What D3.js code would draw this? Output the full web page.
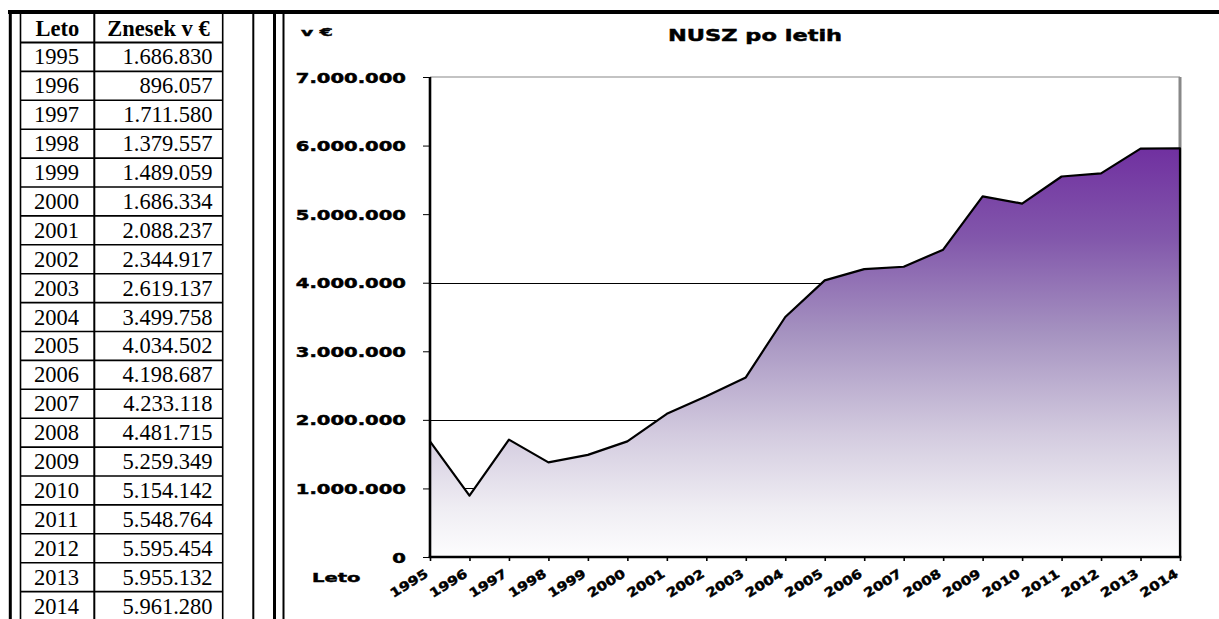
<!DOCTYPE html>
<html>
<head>
<meta charset="utf-8">
<script src="https://cdn.jsdelivr.net/npm/d3@7/dist/d3.min.js"></script>
<style>
  html, body { margin: 0; padding: 0; background: #fff; }
  svg { display: block; }
</style>
</head>
<body>
<svg id="chart" width="1219" height="619"></svg>
<script>
// ---- Data ----
const years = [1995, 1996, 1997, 1998, 1999, 2000, 2001, 2002, 2003, 2004,
               2005, 2006, 2007, 2008, 2009, 2010, 2011, 2012, 2013, 2014];
const values = [1686830, 896057, 1711580, 1379557, 1489059, 1686334, 2088237, 2344917, 2619137, 3499758,
                4034502, 4198687, 4233118, 4481715, 5259349, 5154142, 5548764, 5595454, 5955132, 5961280];
const yTicks = [0, 1000000, 2000000, 3000000, 4000000, 5000000, 6000000, 7000000];
const gridValues = [1000000, 2000000, 4000000];
const tableHeaders = ["Leto", "Znesek v €"];
const chartTitle = "NUSZ po letih";
const yUnitLabel = "v €";
const xAxisLabel = "Leto";

// ---- Setup ----
const svg = d3.select("#chart");
const loc = d3.formatLocale({decimal: ",", thousands: ".", grouping: [3], currency: ["", "€"]});
const fmt = loc.format(",d");

function stretch(sel, f) {
  sel.each(function () {
    const w = this.getComputedTextLength();
    this.setAttribute("textLength", w * f);
    this.setAttribute("lengthAdjust", "spacingAndGlyphs");
  });
}
function heavy(sel) {
  sel.attr("stroke", "#000").attr("stroke-width", 0.45).attr("fill", "#000");
}

// ---- Frame lines ----
const frame = svg.append("g").attr("stroke", "#000");
frame.append("line").attr("x1", 8).attr("x2", 1219).attr("y1", 12).attr("y2", 12).attr("stroke-width", 4);
[[10.3, 3], [253.3, 2], [274.5, 3], [283.5, 2]].forEach(([x, w]) => {
  frame.append("line").attr("x1", x).attr("x2", x).attr("y1", 10).attr("y2", 619).attr("stroke-width", w);
});

// ---- Table ----
const tbl = svg.append("g");
const tLeft = 20.5, tDiv = 94.3, tRight = 222.7, headerTop = 13, headerBottom = 42.5, rowH = 28.9;
const rowY = d3.scaleLinear().domain([0, 1]).range([headerBottom, headerBottom + rowH]);
const tFont = 22.5;
[tLeft, tDiv, tRight].forEach((x, i) => {
  tbl.append("line").attr("x1", x).attr("x2", x).attr("y1", 12).attr("y2", 619)
    .attr("stroke", "#000").attr("stroke-width", i === 1 ? 2 : 1.6);
});
d3.range(0, years.length).forEach(i => {
  const y = rowY(i);
  tbl.append("line").attr("x1", tLeft).attr("x2", tRight).attr("y1", y).attr("y2", y)
    .attr("stroke", "#000").attr("stroke-width", i === 0 ? 2.2 : 1.6);
});
tbl.append("text").attr("x", (tLeft + tDiv) / 2).attr("y", (headerTop + headerBottom) / 2 + 1)
  .attr("text-anchor", "middle").attr("dominant-baseline", "central")
  .attr("font-family", "Liberation Serif").attr("font-weight", "bold").attr("font-size", tFont)
  .text(tableHeaders[0]);
tbl.append("text").attr("x", (tDiv + tRight) / 2).attr("y", (headerTop + headerBottom) / 2 + 1)
  .attr("text-anchor", "middle").attr("dominant-baseline", "central")
  .attr("font-family", "Liberation Serif").attr("font-weight", "bold").attr("font-size", tFont)
  .text(tableHeaders[1]);
years.forEach((yr, i) => {
  const cy = rowY(i + 0.5);
  tbl.append("text").attr("x", (tLeft + tDiv) / 2 - 1).attr("y", cy)
    .attr("text-anchor", "middle").attr("dominant-baseline", "central")
    .attr("font-family", "Liberation Serif").attr("font-size", tFont).text(yr);
  tbl.append("text").attr("x", 212.5).attr("y", cy)
    .attr("text-anchor", "end").attr("dominant-baseline", "central")
    .attr("font-family", "Liberation Serif").attr("font-size", tFont).text(fmt(values[i]));
});

// ---- Chart ----
const plot = {left: 430, right: 1180, top: 77, bottom: 557};
const x = d3.scalePoint().domain(years).range([plot.left, plot.right]);
const y = d3.scaleLinear().domain([0, 7000000]).range([plot.bottom, plot.top]);
const chartFont = "DejaVu Sans";

const defs = svg.append("defs");
const grad = defs.append("linearGradient").attr("id", "areaGrad")
  .attr("gradientUnits", "userSpaceOnUse")
  .attr("x1", 0).attr("x2", 0).attr("y1", y(d3.max(values))).attr("y2", y(0));
[[0, "#7030a0"], [0.22, "#8257ab"], [0.45, "#a592c0"], [0.7, "#d3cbdf"], [0.88, "#efedf3"], [1, "#fdfdfe"]]
  .forEach(([o, c]) => grad.append("stop").attr("offset", o).attr("stop-color", c));

svg.append("line").attr("x1", plot.left).attr("x2", plot.right).attr("y1", plot.top).attr("y2", plot.top)
  .attr("stroke", "#888").attr("stroke-width", 1.2);
svg.append("line").attr("x1", plot.right).attr("x2", plot.right).attr("y1", plot.top).attr("y2", plot.bottom)
  .attr("stroke", "#888").attr("stroke-width", 3);

svg.append("g").selectAll("line").data(gridValues).join("line")
  .attr("x1", plot.left).attr("x2", plot.right)
  .attr("y1", d => Math.round(y(d)) + 0.5).attr("y2", d => Math.round(y(d)) + 0.5)
  .attr("stroke", "#000").attr("stroke-width", 1);

const area = d3.area().x((d, i) => x(years[i])).y0(y(0)).y1(d => y(d));
svg.append("path").datum(values).attr("d", area).attr("fill", "url(#areaGrad)");
const outline = d3.line().x(d => d[0]).y(d => d[1]);
const pts = values.map((v, i) => [x(years[i]), y(v)]);
pts.push([x(years[years.length - 1]), y(0)]);
svg.append("path").datum(pts).attr("d", outline).attr("fill", "none")
  .attr("stroke", "#000").attr("stroke-width", 2.2).attr("stroke-linejoin", "round");

const yAxisG = svg.append("g").attr("transform", `translate(${plot.left},0)`)
  .call(d3.axisLeft(y).tickValues(yTicks).tickSize(7).tickFormat(""));
yAxisG.select(".domain").attr("stroke-width", 2.6).attr("d", `M0,${plot.top}V${plot.bottom}`);
yAxisG.selectAll(".tick line").attr("stroke-width", 1);

const xAxisG = svg.append("g").attr("transform", `translate(0,${plot.bottom})`)
  .call(d3.axisBottom(x).tickSize(4).tickFormat(""));
xAxisG.select(".domain").attr("stroke-width", 2.6).attr("d", `M${plot.left - 1.3},0H${plot.right + 1.3}`);
xAxisG.selectAll(".tick line").attr("stroke-width", 1.6);

// y tick labels
const yl = svg.append("g").selectAll("text").data(yTicks).join("text")
  .attr("x", 406).attr("y", d => y(d) + 0.5)
  .attr("text-anchor", "end").attr("dominant-baseline", "central")
  .attr("font-family", chartFont).attr("font-weight", "bold").attr("font-size", 13.5)
  .text(d => d === 0 ? "0" : fmt(d));
stretch(yl, 1.45);
heavy(yl);

// x tick labels
const xl = svg.append("g").selectAll("text").data(years).join("text")
  .attr("transform", d => `translate(${x(d) - 1},576) rotate(-32)`)
  .attr("text-anchor", "end")
  .attr("font-family", chartFont).attr("font-weight", "bold").attr("font-size", 12.5)
  .text(d => d);
stretch(xl, 1.2);
heavy(xl);

// title
const tt = svg.append("text").attr("x", 668).attr("y", 41)
  .attr("font-family", chartFont).attr("font-weight", "bold").attr("font-size", 15.5)
  .text(chartTitle);
stretch(tt, 1.45);
heavy(tt);

// unit label
const ul = svg.append("text").attr("x", 301).attr("y", 36)
  .attr("font-family", chartFont).attr("font-weight", "bold").attr("font-size", 11)
  .text(yUnitLabel);
stretch(ul, 1.7);
heavy(ul);

// x axis label
const xal = svg.append("text").attr("x", 312).attr("y", 577)
  .attr("dominant-baseline", "central")
  .attr("font-family", chartFont).attr("font-weight", "bold").attr("font-size", 13)
  .text(xAxisLabel);
stretch(xal, 1.5);
heavy(xal);
</script>
</body>
</html>
